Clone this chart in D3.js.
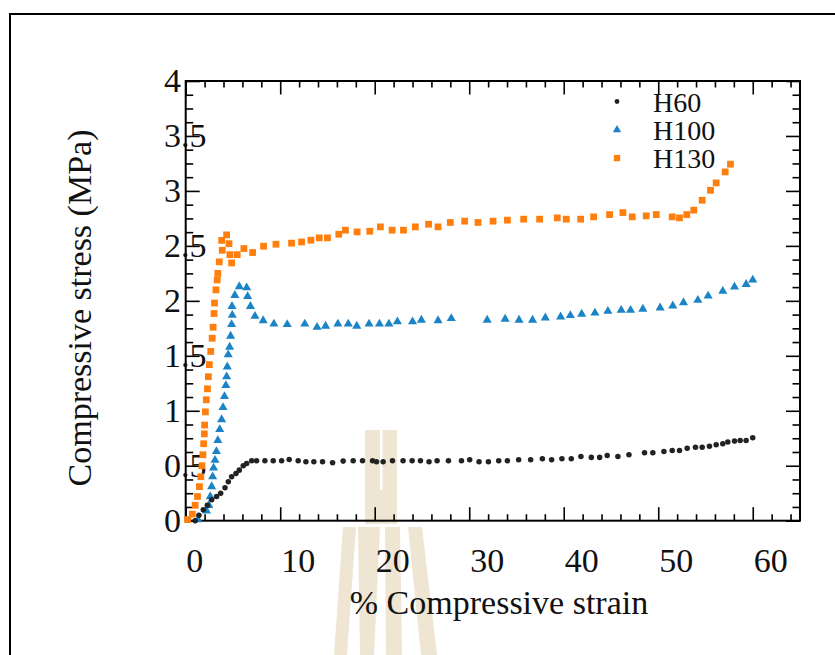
<!DOCTYPE html>
<html>
<head>
<meta charset="utf-8">
<script src="https://cdn.jsdelivr.net/npm/d3@7"></script>
<style>
  body { margin: 0; background: #fff; }
  text { font-family: "Liberation Serif", "Times New Roman", serif; fill: #111; }
</style>
</head>
<body>
<script>
const WIDTH = 835
const HEIGHT = 655

// data
const seriesNames = ["H60", "H100", "H130"]

const h60Strain = [1.0, 1.4, 1.86, 2.29, 2.75, 3.27, 3.7, 4.16, 4.51, 4.86, 5.32, 5.67, 6.09, 6.45, 6.98, 7.5, 8.38, 9.26, 10.15, 10.95, 11.9, 12.72, 13.56, 14.48, 15.54, 16.66, 17.72, 18.71, 19.77, 20.19, 20.89, 21.88, 23.0, 23.96, 24.84, 25.75, 26.6, 27.8, 29.18, 30.05, 31.04, 32.03, 33.12, 34.04, 35.23, 36.5, 37.74, 38.72, 39.81, 40.8, 41.82, 42.92, 43.8, 44.6, 45.73, 46.9, 48.55, 49.43, 50.6, 51.48, 52.25, 53.06, 53.94, 54.65, 55.42, 56.13, 56.83, 57.36, 58.07, 58.67, 59.3, 60.0]
const h60Stress = [0.0, 0.05, 0.1, 0.14, 0.19, 0.22, 0.25, 0.3, 0.355, 0.4, 0.43, 0.46, 0.5, 0.52, 0.545, 0.545, 0.545, 0.545, 0.545, 0.557, 0.545, 0.536, 0.536, 0.536, 0.527, 0.542, 0.545, 0.545, 0.545, 0.536, 0.536, 0.545, 0.545, 0.545, 0.545, 0.536, 0.545, 0.545, 0.545, 0.555, 0.536, 0.536, 0.545, 0.545, 0.555, 0.555, 0.564, 0.555, 0.564, 0.564, 0.585, 0.576, 0.576, 0.594, 0.585, 0.6, 0.618, 0.618, 0.63, 0.639, 0.639, 0.66, 0.669, 0.669, 0.678, 0.69, 0.7, 0.715, 0.724, 0.73, 0.73, 0.755]

const h100Strain = [1.3, 2.2, 2.45, 2.6, 2.75, 2.85, 2.95, 3.1, 3.25, 3.4, 3.6, 3.8, 3.95, 4.1, 4.25, 4.33, 4.4, 4.5, 4.65, 4.75, 4.86, 4.93, 4.9, 5.2, 5.67, 6.45, 6.55, 6.85, 7.33, 8.2, 9.33, 10.74, 12.6, 13.9, 14.8, 16.1, 17.2, 18.1, 19.4, 20.5, 21.5, 22.4, 24.0, 24.94, 26.7, 28.1, 31.9, 33.8, 35.27, 36.7, 38.05, 39.67, 40.7, 41.9, 43.3, 44.67, 46.08, 47.07, 48.37, 50.2, 51.54, 52.67, 54.19, 55.28, 56.83, 58.07, 59.3, 60.0]
const h100Stress = [0.01, 0.09, 0.14, 0.22, 0.31, 0.4, 0.48, 0.55, 0.63, 0.73, 0.83, 0.92, 1.03, 1.13, 1.23, 1.31, 1.4, 1.51, 1.58, 1.68, 1.785, 1.87, 1.95, 2.05, 2.13, 2.12, 2.04, 1.95, 1.86, 1.82, 1.79, 1.785, 1.79, 1.76, 1.77, 1.79, 1.79, 1.77, 1.79, 1.79, 1.79, 1.81, 1.81, 1.825, 1.82, 1.84, 1.825, 1.834, 1.825, 1.825, 1.845, 1.855, 1.867, 1.88, 1.89, 1.906, 1.915, 1.915, 1.925, 1.936, 1.955, 1.985, 2.006, 2.045, 2.088, 2.127, 2.15, 2.19]

const h130Strain = [0.2, 0.7, 1.0, 1.25, 1.45, 1.6, 1.72, 1.82, 1.9, 1.97, 2.0, 2.08, 2.18, 2.3, 2.4, 2.5, 2.65, 2.8, 2.9, 3.0, 3.05, 3.2, 3.33, 3.4, 3.55, 3.87, 3.81, 4.33, 4.58, 4.68, 4.86, 5.45, 6.16, 7.08, 8.24, 9.55, 11.2, 12.26, 13.25, 14.13, 15.0, 16.2, 16.9, 18.14, 19.48, 20.6, 21.84, 23.04, 24.3, 25.7, 26.7, 28.0, 29.52, 30.93, 32.52, 34.04, 35.76, 37.45, 39.32, 40.27, 41.79, 43.16, 44.85, 46.26, 47.25, 48.73, 49.79, 51.48, 52.25, 53.02, 53.76, 54.65, 55.53, 56.13, 57.08, 57.64]
const h130Stress = [0.01, 0.06, 0.14, 0.22, 0.31, 0.4, 0.5, 0.6, 0.7, 0.79, 0.87, 0.99, 1.1, 1.2, 1.31, 1.42, 1.54, 1.66, 1.76, 1.885, 1.98, 2.1, 2.19, 2.25, 2.355, 2.46, 2.55, 2.6, 2.52, 2.42, 2.345, 2.42, 2.476, 2.44, 2.497, 2.515, 2.525, 2.536, 2.552, 2.573, 2.573, 2.606, 2.643, 2.627, 2.633, 2.673, 2.643, 2.643, 2.673, 2.697, 2.673, 2.713, 2.725, 2.713, 2.725, 2.734, 2.743, 2.743, 2.755, 2.743, 2.743, 2.764, 2.785, 2.803, 2.764, 2.773, 2.785, 2.764, 2.755, 2.785, 2.825, 2.915, 3.006, 3.073, 3.173, 3.243]

const xMajor = [0, 10, 20, 30, 40, 50, 60]
const yMajor = [0, 0.5, 1, 1.5, 2, 2.5, 3, 3.5, 4]

const svg = d3.select("body")
    .append("svg")
    .attr("width", WIDTH)
    .attr("height", HEIGHT)

// cadre de la page
svg.append("rect")
    .attr("x", 10).attr("y", 14)
    .attr("width", 900).attr("height", 700)
    .attr("fill", "none").attr("stroke", "#000").attr("stroke-width", 2)

// filigrane (logo beige derrière le graphique)
const wm = svg.append("g").attr("fill", "#eee5d3")
const wmShapes = [
    [[365, 430], [380, 430], [380, 490], [382.5, 490], [382.5, 430], [397, 430], [397, 524], [365, 524]],
    [[343, 527], [356, 527], [347, 655], [334, 655]],
    [[358, 527], [380, 527], [374, 655], [360, 655]],
    [[385, 527], [400, 527], [402, 655], [386, 655]],
    [[408, 527], [422, 527], [437, 655], [421, 655]]
]
wm.selectAll("polygon")
    .data(wmShapes)
    .enter()
    .append("polygon")
    .attr("points", d => d.map(p => p.join(",")).join(" "))

const x = d3.scaleLinear().domain([0, 65]).range([185.7, 800])
const y = d3.scaleLinear().domain([0, 4]).range([520.7, 81])

// axes: ticks vers l'intérieur, sur les 4 côtés
const xMinor = d3.range(0, 65, 2).filter(v => v % 10 !== 0)
const yMinor = d3.range(0, 4.01, 0.125).filter(v => Math.abs(v * 2 - Math.round(v * 2)) > 1e-6)

function ticks(g, axis, values, size) {
    g.call(axis.tickValues(values).tickSize(-size).tickFormat(""))
    g.select(".domain").remove()
    g.selectAll("line").attr("stroke", "#000").attr("stroke-width", 1.6)
}

const H = 520.7, T = 81, L = 185.7, R = 800
svg.append("g").attr("transform", `translate(0,${H})`).call(g => ticks(g, d3.axisBottom(x), xMajor, 13.5))
svg.append("g").attr("transform", `translate(0,${H})`).call(g => ticks(g, d3.axisBottom(x), xMinor, 6.5))
svg.append("g").attr("transform", `translate(0,${T})`).call(g => ticks(g, d3.axisTop(x), xMajor, 13.5))
svg.append("g").attr("transform", `translate(0,${T})`).call(g => ticks(g, d3.axisTop(x), xMinor, 6.5))
svg.append("g").attr("transform", `translate(${L},0)`).call(g => ticks(g, d3.axisLeft(y), yMajor, 14))
svg.append("g").attr("transform", `translate(${L},0)`).call(g => ticks(g, d3.axisLeft(y), yMinor, 7.5))
svg.append("g").attr("transform", `translate(${R},0)`).call(g => ticks(g, d3.axisRight(y), yMajor, 14))
svg.append("g").attr("transform", `translate(${R},0)`).call(g => ticks(g, d3.axisRight(y), yMinor, 7.5))

svg.append("rect")
    .attr("x", L).attr("y", T)
    .attr("width", R - L).attr("height", H - T)
    .attr("fill", "none").attr("stroke", "#000").attr("stroke-width", 2)

// étiquettes des ticks (décalées comme dans l'original)
svg.append("g").selectAll("text")
    .data(xMajor)
    .enter()
    .append("text")
    .attr("x", d => x(d) + (d === 0 ? 9 : 18))
    .attr("y", 571.5)
    .attr("text-anchor", "middle")
    .attr("font-size", 34)
    .text(d => d)

svg.append("g").selectAll("text")
    .data(yMajor)
    .enter()
    .append("text")
    .attr("x", 164)
    .attr("y", d => y(d) + 11)
    .attr("font-size", 34)
    .text(d => d)

// titres
svg.append("text")
    .attr("x", 499).attr("y", 614)
    .attr("text-anchor", "middle")
    .attr("font-size", 34)
    .text("% Compressive strain")

svg.append("text")
    .attr("transform", "translate(91,308) rotate(-90)")
    .attr("text-anchor", "middle")
    .attr("font-size", 34)
    .text("Compressive stress (MPa)")

// points
const colors = { H60: "#222222", H100: "#1c84c6", H130: "#ff7f0e" }
const shapes = { H60: d3.symbolCircle, H100: d3.symbolTriangle, H130: d3.symbolSquare }
const sizes = { H60: 24, H100: 36, H130: 46 }

const series = [
    { name: "H130", strain: h130Strain, stress: h130Stress },
    { name: "H100", strain: h100Strain, stress: h100Stress },
    { name: "H60", strain: h60Strain, stress: h60Stress }
]

series.forEach(s => {
    const pts = s.strain.map((v, i) => [v, s.stress[i]])
    svg.append("g").selectAll("path")
        .data(pts)
        .enter()
        .append("path")
        .attr("d", d3.symbol().type(shapes[s.name]).size(sizes[s.name]))
        .attr("transform", d => `translate(${x(d[0])},${y(d[1])})`)
        .attr("fill", colors[s.name])
})

// légende
const legend = svg.append("g").attr("transform", "translate(617,101.5)")
seriesNames.forEach((n, i) => {
    legend.append("path")
        .attr("d", d3.symbol().type(shapes[n]).size(n === "H60" ? 18 : (n === "H100" ? 30 : 40)))
        .attr("transform", `translate(0,${i * 28.3})`)
        .attr("fill", colors[n])
    legend.append("text")
        .attr("x", 36)
        .attr("y", i * 28.3 + 10)
        .attr("font-size", 28)
        .text(n)
})
</script>
</body>
</html>
